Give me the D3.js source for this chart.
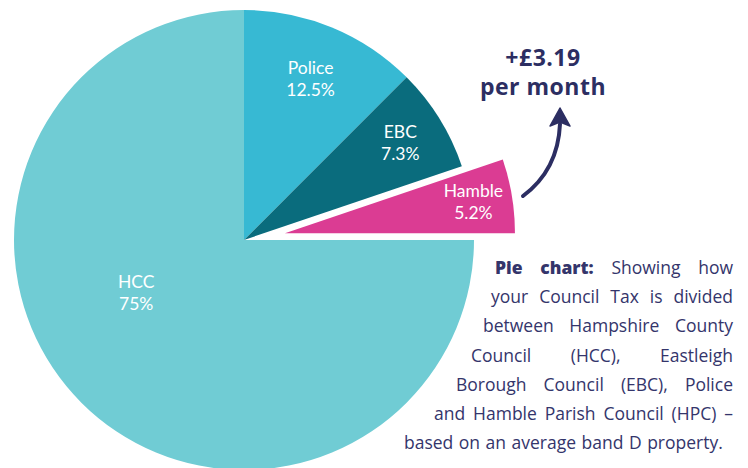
<!DOCTYPE html>
<html><head><meta http-equiv="Content-Type" content="text/html; charset=UTF-8">
<style>
body { margin: 0; background: #fff; }
svg { display: block; }
.slice-label { fill: #fff; font: 17.5px Lato, sans-serif; text-anchor: middle; }
.note { fill: #34356b; font: 17.5px "Open Sans", sans-serif; }
</style>
</head>
<body>
<svg width="748" height="468"></svg>
<script src="https://cdn.jsdelivr.net/npm/d3@7"></script>
<script>

var names = ["Police", "EBC", "Hamble", "HCC"];
var shares = [12.5, 7.3, 5.2, 75];
var shareLabels = ["12.5%", "7.3%", "5.2%", "75%"];
var colours = ["#37b9d3", "#0a6c7d", "#db3c93", "#70ccd4"];

var calloutLines = ["+£3.19", "per month"];
var boldWords = ["Pie", "chart:"];
var noteLines = [
  ["Pie", "chart:", "Showing", "how"],
  ["your", "Council", "Tax", "is", "divided"],
  ["between", "Hampshire", "County"],
  ["Council", "(HCC),", "Eastleigh"],
  ["Borough", "Council", "(EBC),", "Police"],
  ["and", "Hamble", "Parish", "Council", "(HPC)", "–"],
  ["based", "on", "an", "average", "band", "D", "property."]
];

var svg = d3.select("svg"),
    cx = 244, cy = 240, radius = 230;

var pie = d3.pie().sort(null).startAngle(0).endAngle(2 * Math.PI);
var arcs = pie(shares);
var arc = d3.arc().innerRadius(0).outerRadius(radius);

// label distance from centre, per slice, and the exploded slice
var labelR = [174, 184, 191, 120];
var labelTurn = [0, 0, 0, 0.33];
var explode = [0, 0, 41.5, 0];

var g = svg.append("g").attr("transform", "translate(" + cx + "," + cy + ")");

var slice = g.selectAll(".slice")
  .data(arcs)
  .enter().append("g")
    .attr("class", "slice")
    .attr("transform", function(d, i) {
      var a = (d.startAngle + d.endAngle) / 2;
      return "translate(" + explode[i] * Math.sin(a) + "," + (-explode[i] * Math.cos(a)) + ")";
    });

slice.append("path")
    .attr("d", arc)
    .attr("fill", function(d, i) { return colours[i]; });

var lab = slice.append("text")
    .attr("class", "slice-label")
    .attr("transform", function(d, i) {
      var a = (d.startAngle + d.endAngle) / 2 + labelTurn[i];
      return "translate(" + labelR[i] * Math.sin(a) + "," + (-labelR[i] * Math.cos(a)) + ")";
    });
lab.append("tspan").attr("x", 0).attr("y", -5).text(function(d, i) { return names[i]; });
lab.append("tspan").attr("x", 0).attr("y", 17).text(function(d, i) { return shareLabels[i]; });

// callout
var navy = "#2c2e62";
svg.append("g").selectAll("text")
  .data(calloutLines)
  .enter().append("text")
    .attr("x", 543)
    .attr("y", function(d, i) { return 66 + i * 29; })
    .attr("text-anchor", "middle")
    .style("font", "bold 23px 'Open Sans', sans-serif")
    .style("letter-spacing", "0.5px")
    .attr("fill", navy)
    .text(function(d) { return d; });

svg.append("path")
    .attr("d", "M523,196 Q558,170 560,124")
    .attr("fill", "none")
    .attr("stroke", navy)
    .attr("stroke-width", 4)
    .attr("stroke-linecap", "round");
svg.append("path")
    .attr("d", "M560,108 L570,126 L560,122 L550,126 Z")
    .attr("fill", navy)
    .attr("stroke", navy)
    .attr("stroke-width", 1.5)
    .attr("stroke-linejoin", "round");

// justified note text
var lineLeft = [495, 491, 483, 471, 456, 434, 404];
var noteRight = 733, noteTop = 274, lead = 29.2;
var note = svg.append("g");
noteLines.forEach(function(words, li) {
  var y = noteTop + li * lead;
  var nodes = words.map(function(w, k) {
    var isBold = li === 0 && k < boldWords.length && boldWords[k] === w;
    return note.append("text")
      .attr("class", "note")
      .attr("y", y)
      .style("font-weight", isBold ? "800" : null)
      .text(w);
  });
  var widths = nodes.map(function(t) { return t.node().getComputedTextLength(); });
  var total = d3.sum(widths);
  var last = li === noteLines.length - 1;
  var gap = last ? 5.5 : (noteRight - lineLeft[li] - total) / (words.length - 1);
  var x = lineLeft[li];
  nodes.forEach(function(t, k) {
    t.attr("x", x);
    x += widths[k] + gap;
  });
});

</script>
</body></html>
